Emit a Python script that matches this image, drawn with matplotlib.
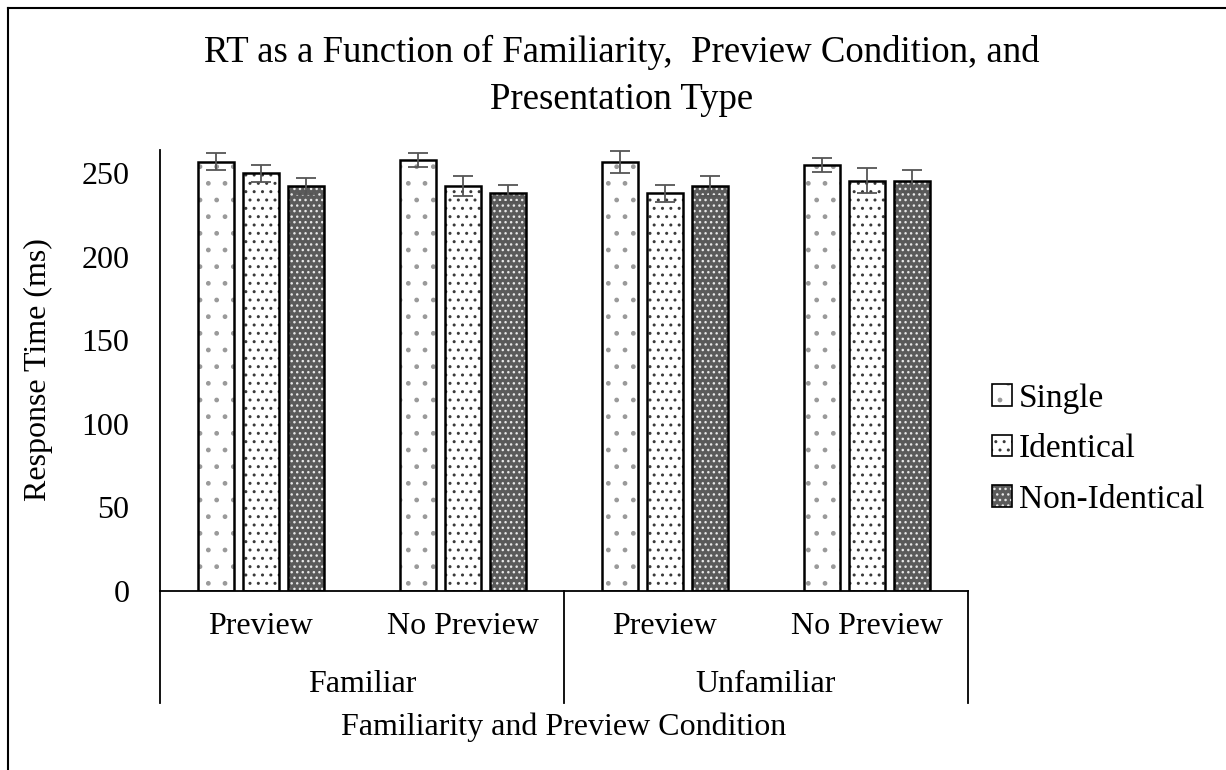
import matplotlib
matplotlib.use("Agg")
import matplotlib.pyplot as plt
import matplotlib.patches as mpatches
import matplotlib.legend_handler
from matplotlib.lines import Line2D
import numpy as np

plt.rcParams['font.family'] = ['Liberation Serif', 'DejaVu Serif']
plt.rcParams['hatch.linewidth'] = 1.0

title = "RT as a Function of Familiarity,  Preview Condition, and\nPresentation Type"
groups = ["Familiar", "Unfamiliar"]
subcats = ["Preview", "No Preview", "Preview", "No Preview"]
series = ["Single", "Identical", "Non-Identical"]
single = [257, 258, 257, 255]
identical = [250, 242.5, 238, 245.5]
nonident = [242.5, 238, 242.5, 245.5]
single_err = [5, 4, 6.5, 4]
identical_err = [5, 6, 5, 7.5]
nonident_err = [5, 5, 6, 6.5]
yticks = [0, 50, 100, 150, 200, 250]

values = [single, identical, nonident]
errs = [single_err, identical_err, nonident_err]
styles = [
    dict(face="white", hatchc="#9a9a9a", hatch="."),
    dict(face="white", hatchc="#3a3a3a", hatch=".."),
    dict(face="#5a5a5a", hatchc="#e8e8e8", hatch="..."),
]

FS = 23
W, H = 1226, 770
fig = plt.figure(figsize=(W / 100, H / 100), dpi=100)
ax_l, ax_r, ax_b, ax_t = 160, 968, 591, 150
ax = fig.add_axes([ax_l / W, 1 - ax_b / H, (ax_r - ax_l) / W, (ax_b - ax_t) / H])

x = np.arange(len(subcats))
bw = 0.178
off = 0.221
handles = []
for i, (vals, er, st) in enumerate(zip(values, errs, styles)):
    pos = x + (i - 1) * off
    ax.bar(pos, vals, bw, color=st["face"], edgecolor=st["hatchc"], hatch=st["hatch"],
           linewidth=0, zorder=2)
    ax.bar(pos, vals, bw, fill=False, edgecolor="black", linewidth=1.8, zorder=3)
    ax.errorbar(pos, vals, yerr=er, fmt="none", ecolor="#555555", elinewidth=1.3,
                capsize=7, capthick=1.3, zorder=4)
    hp = mpatches.Patch(facecolor=st["face"], edgecolor=st["hatchc"], hatch=st["hatch"], linewidth=0)
    op = mpatches.Patch(fill=False, edgecolor="black", linewidth=1.2)
    handles.append((hp, op))

ax.set_xlim(-0.5, len(subcats) - 0.5)
ax.set_ylim(0, 264)
ax.set_yticks(yticks)
ax.set_yticklabels([str(t) for t in yticks], fontsize=FS)
ax.tick_params(axis="y", length=0, pad=22)
ax.set_xticks([])
for s in ["top", "right", "bottom"]:
    ax.spines[s].set_visible(False)
ax.spines["left"].set_linewidth(1.3)

# hierarchical category axis
trans = ax.get_xaxis_transform()
hpx = ax_b - ax_t
ybot = -(703 - 591) / hpx
ax.plot([-0.5, 3.5], [0, 0], transform=trans, color="black", lw=1.3, clip_on=False, zorder=5)
for xv in [-0.5, 1.5, 3.5]:
    ax.plot([xv, xv], [0, ybot], transform=trans, color="black", lw=1.3, clip_on=False)
for xi, lab in zip(x, subcats):
    ax.text(xi, -(627 - 591) / hpx, lab, transform=trans, ha="center", va="center", fontsize=FS)
for gi, g in enumerate(groups):
    ax.text(0.5 + 2 * gi, -(685 - 591) / hpx, g, transform=trans, ha="center", va="center", fontsize=FS)

fig.text(564 / W, 1 - 727 / H, "Familiarity and Preview Condition", ha="center", va="center", fontsize=FS)
fig.text(38 / W, 1 - 370 / H, "Response Time (ms)", ha="center", va="center", rotation=90, fontsize=FS)
fig.text(622 / W, 1 - 76 / H, title, ha="center", va="center", fontsize=26.5, linespacing=1.5)

leg = fig.legend(handles, series, loc="center left", bbox_to_anchor=(962 / W, 1 - 449 / H),
                 frameon=False, fontsize=FS + 1, handlelength=0.6, handleheight=0.6,
                 handletextpad=0.2, labelspacing=0.6,
                 handler_map={tuple: matplotlib.legend_handler.HandlerTuple(ndivide=1)})

# figure border (top and left)
fig.add_artist(Line2D([8 / W, 8 / W], [0, 1 - 8 / H], transform=fig.transFigure, color="black", lw=1.5))
fig.add_artist(Line2D([8 / W, 1], [1 - 8 / H, 1 - 8 / H], transform=fig.transFigure, color="black", lw=1.5))

fig.savefig("out.png", dpi=100)
